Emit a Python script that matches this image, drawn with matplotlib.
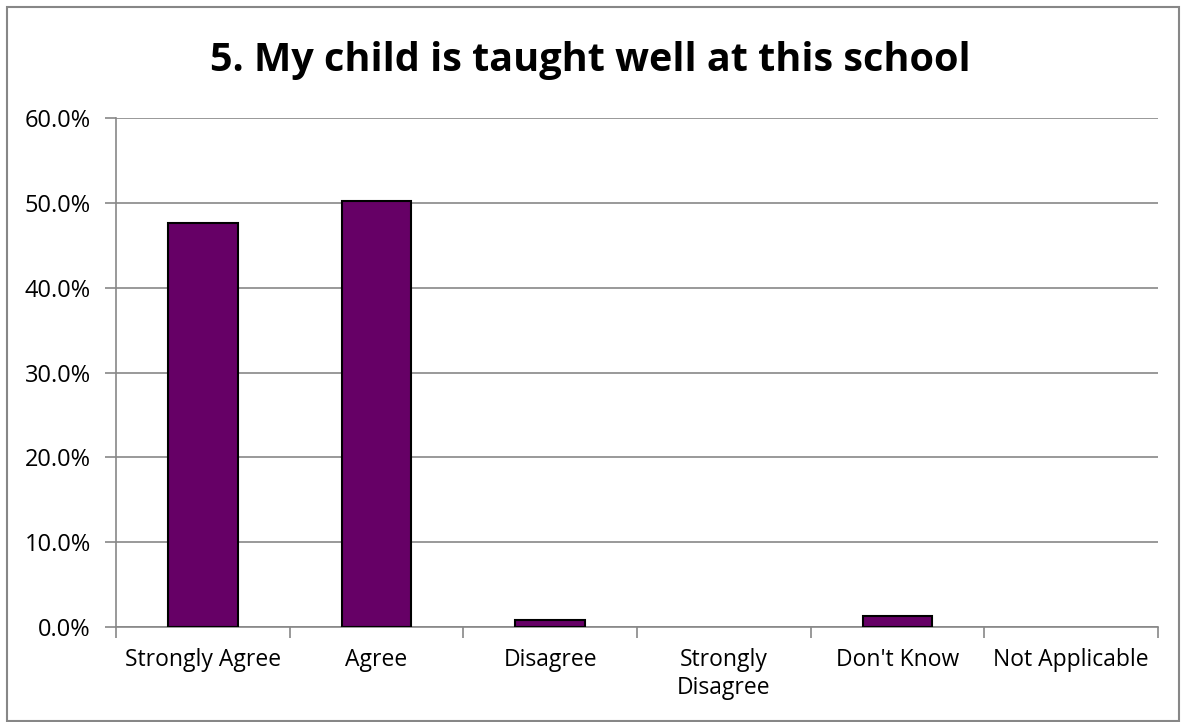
import matplotlib.pyplot as plt
from matplotlib.patches import Rectangle
from matplotlib.ticker import PercentFormatter, FixedLocator, NullFormatter

categories = ["Strongly Agree", "Agree", "Disagree", "Strongly\nDisagree", "Don't Know", "Not Applicable"]
values = [47.6, 50.2, 0.8, 0.0, 1.3, 0.0]
title = "5. My child is taught well at this school"

plt.rcParams['font.family'] = ['Open Sans', 'DejaVu Sans']
W, H = 1181, 722
fig = plt.figure(figsize=(W / 100, H / 100), dpi=100)
ax = fig.add_axes([116 / W, 1 - 627 / H, (1158 - 116) / W, (627 - 118) / H])

grey = "#878787"
x = list(range(len(categories)))
# zero bars are not outlined in the original
edges = ["black" if v > 0 else "none" for v in values]
ax.bar(x, values, width=0.4, color="#660066", edgecolor=edges, linewidth=1.5, zorder=3)

ax.set_xlim(-0.5, len(categories) - 0.5)
ax.set_ylim(0, 60)
ax.set_yticks([0, 10, 20, 30, 40, 50, 60])
ax.yaxis.set_major_formatter(PercentFormatter(decimals=1))
ax.grid(axis="y", color=grey, linewidth=1.2, zorder=0)

ax.set_xticks(x)
ax.set_xticklabels(categories, fontsize=16.5, linespacing=1.25)
ax.tick_params(axis="x", length=0, pad=15)
ax.xaxis.set_minor_locator(FixedLocator([i - 0.5 for i in range(len(categories) + 1)]))
ax.xaxis.set_minor_formatter(NullFormatter())
ax.tick_params(axis="x", which="minor", length=8, color=grey, width=1.2)
ax.tick_params(axis="y", length=8, color=grey, width=1.2, labelsize=17, pad=10)

for s in ["top", "right"]:
    ax.spines[s].set_visible(False)
for s in ["left", "bottom"]:
    ax.spines[s].set_color(grey)
    ax.spines[s].set_linewidth(1.2)

fig.text(0.5, 1 - 60 / H, title, ha="center", va="center", fontsize=28.5, fontweight="bold")
fig.patches.append(Rectangle((7 / W, 1 / H), (W - 9) / W, (H - 8) / H,
                             transform=fig.transFigure, fill=False, edgecolor=grey, linewidth=1.5))

fig.savefig("out.png", dpi=100)
